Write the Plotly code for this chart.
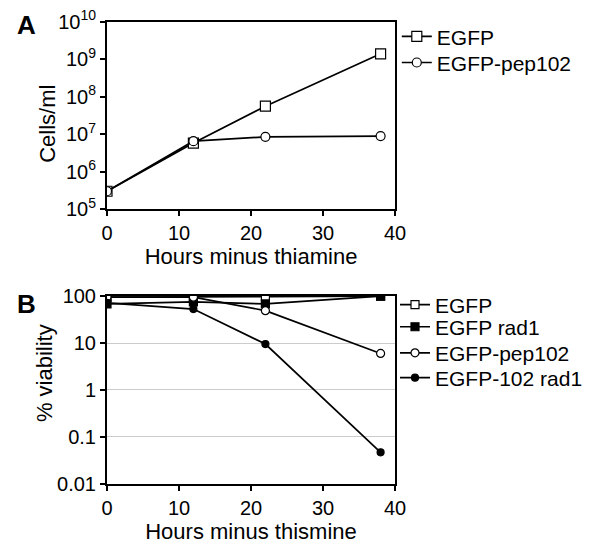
import plotly.graph_objects as go

hours = [0, 12, 22, 38]

# Panel A: cells/ml
a_egfp = [3.0e5, 5.8e6, 5.6e7, 1.4e9]
a_pep102 = [3.0e5, 6.5e6, 8.5e6, 8.9e6]

# Panel B: % viability
b_egfp = [95, 95, 97, 100]
b_egfp_rad1 = [68, 75, 68, 100]
b_pep102 = [95, 95, 49, 6]
b_102_rad1 = [72, 53, 9.5, 0.047]

a_tickvals = [1e5, 1e6, 1e7, 1e8, 1e9, 1e10]
a_ticktext = ["10<sup>5</sup>", "10<sup>6</sup>", "10<sup>7</sup>", "10<sup>8</sup>", "10<sup>9</sup>", "10<sup>10</sup>"]
b_tickvals = [0.01, 0.1, 1, 10, 100]
b_ticktext = ["0.01", "0.1", "1", "10", "100"]
x_tickvals = [0, 10, 20, 30, 40]

FONT = "Liberation Sans, Arial, sans-serif"
fig = go.Figure()

def add(x, y, name, symbol, fill, xaxis, yaxis, legend, size):
    fig.add_trace(go.Scatter(
        x=x, y=y, name=name, mode="lines+markers",
        line=dict(color="black", width=1.7),
        marker=dict(symbol=symbol, size=size, color=fill, line=dict(color="black", width=1.2)),
        xaxis=xaxis, yaxis=yaxis, legend=legend))

add(hours, a_egfp, "EGFP", "square", "white", "x", "y", "legend", 10)
add(hours, a_pep102, "EGFP-pep102", "circle", "white", "x", "y", "legend2", 9)

add(hours, b_egfp, "EGFP", "square", "white", "x2", "y2", "legend3", 8)
add(hours, b_egfp_rad1, "EGFP rad1", "square", "black", "x2", "y2", "legend4", 8)
add(hours, b_pep102, "EGFP-pep102", "circle", "white", "x2", "y2", "legend5", 8)
add(hours, b_102_rad1, "EGFP-102 rad1", "circle", "black", "x2", "y2", "legend6", 7)

axis_common = dict(showline=True, linecolor="black", linewidth=2, mirror=True,
                   ticks="outside", ticklen=5, tickwidth=1.5, tickcolor="black",
                   automargin=False, ticklabeloverflow="allow",
                   tickfont=dict(family=FONT, size=20, color="black"), zeroline=False)

def leg(y, x, size=21):
    return dict(x=x, y=y, xanchor="left", yanchor="middle",
                font=dict(family=FONT, size=size, color="black"),
                bgcolor="rgba(0,0,0,0)", itemwidth=30, tracegroupgap=0)

fig.update_layout(
    width=600, height=554,
    margin=dict(l=0, r=0, t=0, b=0, autoexpand=False),
    paper_bgcolor="white", plot_bgcolor="white",
    font=dict(family=FONT, color="black"),
    xaxis=dict(domain=[0.165, 0.645], range=[0, 40], tickvals=x_tickvals, anchor="y",
               showgrid=False,
               title=dict(text="Hours minus thiamine", font=dict(size=22), standoff=4), **axis_common),
    yaxis=dict(domain=[0.637, 0.975], type="log", range=[5, 10], tickvals=a_tickvals,
               ticktext=a_ticktext, anchor="x", showgrid=False, **axis_common),
    xaxis2=dict(domain=[0.165, 0.645], range=[0, 40], tickvals=x_tickvals, anchor="y2",
                showgrid=False,
                title=dict(text="Hours minus thismine", font=dict(size=22), standoff=4), **axis_common),
    yaxis2=dict(domain=[0.141, 0.480], type="log", range=[-2, 2], tickvals=b_tickvals,
                ticktext=b_ticktext, anchor="x2", showgrid=True, gridcolor="#cccccc", gridwidth=1,
                **axis_common),
    legend=leg(0.948, 0.648),
    legend2=leg(0.901, 0.648),
    legend3=leg(0.464, 0.645),
    legend4=leg(0.424, 0.645),
    legend5=leg(0.377, 0.645),
    legend6=leg(0.332, 0.645),
    showlegend=True,
)

fig.add_annotation(text="Cells/ml", x=0.0667, y=0.791, xref="paper", yref="paper",
                   xanchor="center", yanchor="middle", textangle=-90, showarrow=False,
                   font=dict(family=FONT, size=22, color="black"))
fig.add_annotation(text="% viability", x=0.06, y=0.341, xref="paper", yref="paper",
                   xanchor="center", yanchor="middle", textangle=-90, showarrow=False,
                   font=dict(family=FONT, size=22, color="black"))
fig.add_annotation(text="<b>A</b>", x=0.012, y=1.0, xref="paper", yref="paper",
                   xanchor="left", yanchor="top", showarrow=False,
                   font=dict(family=FONT, size=26, color="black"))
fig.add_annotation(text="<b>B</b>", x=0.012, y=0.497, xref="paper", yref="paper",
                   xanchor="left", yanchor="top", showarrow=False,
                   font=dict(family=FONT, size=26, color="black"))

fig.write_html("out.html")
